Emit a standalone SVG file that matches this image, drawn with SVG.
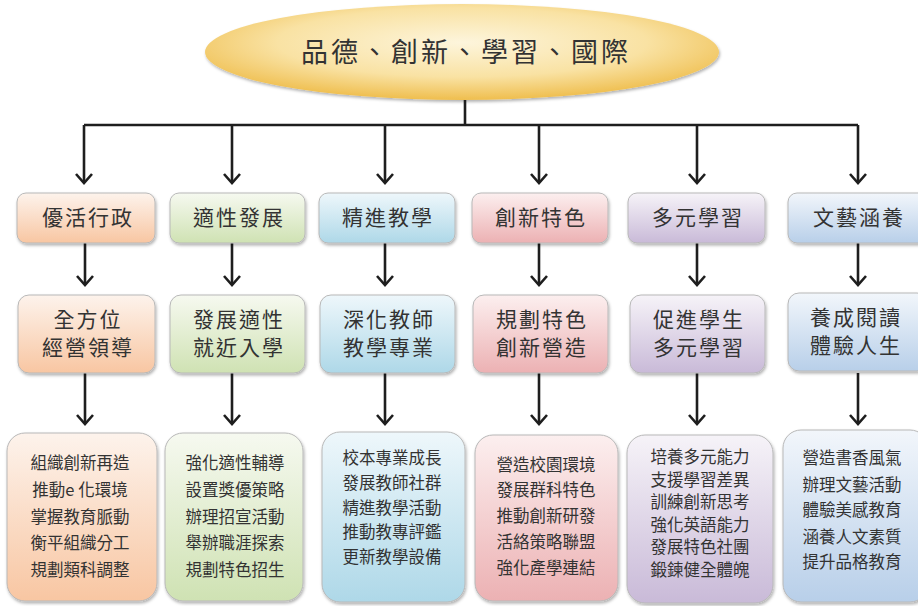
<svg xmlns="http://www.w3.org/2000/svg" width="918" height="606" viewBox="0 0 918 606">
<defs>
<radialGradient id="gEll" cx="0.5" cy="0.4" r="0.6">
<stop offset="0" stop-color="#fdf5dc"/>
<stop offset="0.6" stop-color="#f9e2a3"/>
<stop offset="1" stop-color="#efbe4e"/>
</radialGradient>
<linearGradient id="gO" x1="0" y1="0" x2="0" y2="1"><stop offset="0" stop-color="#fdf3ec"/><stop offset="1" stop-color="#f8c6a2"/></linearGradient>
<linearGradient id="gG" x1="0" y1="0" x2="0" y2="1"><stop offset="0" stop-color="#f6f9f0"/><stop offset="1" stop-color="#cfe2b3"/></linearGradient>
<linearGradient id="gB" x1="0" y1="0" x2="0" y2="1"><stop offset="0" stop-color="#eef7fb"/><stop offset="1" stop-color="#aed8e8"/></linearGradient>
<linearGradient id="gP" x1="0" y1="0" x2="0" y2="1"><stop offset="0" stop-color="#fcefef"/><stop offset="1" stop-color="#ecb1b3"/></linearGradient>
<linearGradient id="gV" x1="0" y1="0" x2="0" y2="1"><stop offset="0" stop-color="#f6f3f8"/><stop offset="1" stop-color="#c9bad8"/></linearGradient>
<linearGradient id="gS" x1="0" y1="0" x2="0" y2="1"><stop offset="0" stop-color="#f2f6fb"/><stop offset="1" stop-color="#b8cfe9"/></linearGradient>
<filter id="sh" x="-10%" y="-10%" width="130%" height="130%">
<feDropShadow dx="1" dy="2" stdDeviation="1.5" flood-color="#000" flood-opacity="0.3"/>
</filter>
<marker id="ah" viewBox="0 0 12 18" markerWidth="12" markerHeight="18" refX="10" refY="9" orient="auto" markerUnits="userSpaceOnUse">
<path d="M1,1 L10,9 L1,17" fill="none" stroke="#1e1e1e" stroke-width="2.6" stroke-linejoin="miter"/>
</marker>
<style>
.bx{stroke:#b8b8b8;stroke-width:1;filter:url(#sh);}
.t{font-family:"Noto Sans CJK TC","Noto Sans CJK SC",sans-serif;fill:#333;text-anchor:middle;}
.t1{font-size:21px;letter-spacing:2px;}
.t3{font-size:16.5px;}
.ln{stroke:#1e1e1e;stroke-width:2.6;fill:none;}
</style>
</defs>
<rect width="918" height="606" fill="#ffffff"/>

<g id="root">
<ellipse cx="462" cy="52" rx="257" ry="48" fill="url(#gEll)" filter="url(#sh)"/>
<text class="t" x="466" y="62" font-size="27" letter-spacing="3">品德、創新、學習、國際</text>
</g>

<g id="connectors">
<path class="ln" d="M465,100 V125 M84,125 H858"/>
<path class="ln" d="M84,125 V183" marker-end="url(#ah)"/>
<path class="ln" d="M232,125 V183" marker-end="url(#ah)"/>
<path class="ln" d="M385,125 V183" marker-end="url(#ah)"/>
<path class="ln" d="M539,125 V183" marker-end="url(#ah)"/>
<path class="ln" d="M697,125 V183" marker-end="url(#ah)"/>
<path class="ln" d="M858,125 V183" marker-end="url(#ah)"/>
<path class="ln" d="M85,243 V285" marker-end="url(#ah)"/>
<path class="ln" d="M232,243 V285" marker-end="url(#ah)"/>
<path class="ln" d="M385,243 V285" marker-end="url(#ah)"/>
<path class="ln" d="M539,243 V285" marker-end="url(#ah)"/>
<path class="ln" d="M697,243 V285" marker-end="url(#ah)"/>
<path class="ln" d="M858,243 V285" marker-end="url(#ah)"/>
<path class="ln" d="M85,373 V424" marker-end="url(#ah)"/>
<path class="ln" d="M232,373 V424" marker-end="url(#ah)"/>
<path class="ln" d="M385,373 V424" marker-end="url(#ah)"/>
<path class="ln" d="M539,373 V424" marker-end="url(#ah)"/>
<path class="ln" d="M697,373 V424" marker-end="url(#ah)"/>
<path class="ln" d="M858,373 V424" marker-end="url(#ah)"/>
</g>

<g id="n1a"><rect class="bx" x="17" y="193" width="138" height="50" rx="9" fill="url(#gO)"/><text class="t t1" x="88" y="225">優活行政</text></g>
<g id="n2a"><rect class="bx" x="170" y="193" width="135" height="50" rx="9" fill="url(#gG)"/><text class="t t1" x="239" y="225">適性發展</text></g>
<g id="n3a"><rect class="bx" x="319" y="193" width="136" height="50" rx="9" fill="url(#gB)"/><text class="t t1" x="388" y="225">精進教學</text></g>
<g id="n4a"><rect class="bx" x="472" y="193" width="136" height="50" rx="9" fill="url(#gP)"/><text class="t t1" x="541" y="225">創新特色</text></g>
<g id="n5a"><rect class="bx" x="628" y="193" width="137" height="50" rx="9" fill="url(#gV)"/><text class="t t1" x="698" y="225">多元學習</text></g>
<g id="n6a"><rect class="bx" x="788" y="193" width="140" height="50" rx="9" fill="url(#gS)"/><text class="t t1" x="859" y="225">文藝涵養</text></g>

<g id="n1b"><rect class="bx" x="18" y="295" width="137" height="78" rx="11" fill="url(#gO)"/><text class="t t1" x="88" y="327">全方位</text><text class="t t1" x="88" y="355">經營領導</text></g>
<g id="n2b"><rect class="bx" x="170" y="295" width="135" height="78" rx="11" fill="url(#gG)"/><text class="t t1" x="239" y="327">發展適性</text><text class="t t1" x="239" y="355">就近入學</text></g>
<g id="n3b"><rect class="bx" x="320" y="295" width="135" height="78" rx="11" fill="url(#gB)"/><text class="t t1" x="389" y="327">深化教師</text><text class="t t1" x="389" y="355">教學專業</text></g>
<g id="n4b"><rect class="bx" x="473" y="295" width="135" height="78" rx="11" fill="url(#gP)"/><text class="t t1" x="542" y="327">規劃特色</text><text class="t t1" x="542" y="355">創新營造</text></g>
<g id="n5b"><rect class="bx" x="630" y="295" width="135" height="78" rx="11" fill="url(#gV)"/><text class="t t1" x="699" y="327">促進學生</text><text class="t t1" x="699" y="355">多元學習</text></g>
<g id="n6b"><rect class="bx" x="788" y="293" width="140" height="78" rx="11" fill="url(#gS)"/><text class="t t1" x="856" y="325">養成閱讀</text><text class="t t1" x="856" y="353">體驗人生</text></g>

<g id="n1c"><rect class="bx" x="7" y="433" width="150" height="168" rx="18" fill="url(#gO)"/>
<text class="t t3" x="80" y="469">組織創新再造</text><text class="t t3" x="80" y="496">推動e 化環境</text><text class="t t3" x="80" y="523">掌握教育脈動</text><text class="t t3" x="80" y="549">衡平組織分工</text><text class="t t3" x="80" y="576">規劃類科調整</text></g>
<g id="n2c"><rect class="bx" x="165" y="433" width="138" height="168" rx="18" fill="url(#gG)"/>
<text class="t t3" x="235" y="469">強化適性輔導</text><text class="t t3" x="235" y="496">設置獎優策略</text><text class="t t3" x="235" y="523">辦理招宣活動</text><text class="t t3" x="235" y="549">舉辦職涯探索</text><text class="t t3" x="235" y="576">規劃特色招生</text></g>
<g id="n3c"><rect class="bx" x="322" y="432" width="143" height="170" rx="18" fill="url(#gB)"/>
<text class="t t3" x="392" y="464">校本專業成長</text><text class="t t3" x="392" y="489">發展教師社群</text><text class="t t3" x="392" y="514">精進教學活動</text><text class="t t3" x="392" y="538">推動教專評鑑</text><text class="t t3" x="392" y="563">更新教學設備</text></g>
<g id="n4c"><rect class="bx" x="475" y="435" width="143" height="166" rx="18" fill="url(#gP)"/>
<text class="t t3" x="546" y="471">營造校園環境</text><text class="t t3" x="546" y="496">發展群科特色</text><text class="t t3" x="546" y="522">推動創新研發</text><text class="t t3" x="546" y="548">活絡策略聯盟</text><text class="t t3" x="546" y="574">強化產學連結</text></g>
<g id="n5c"><rect class="bx" x="627" y="435" width="146" height="168" rx="18" fill="url(#gV)"/>
<text class="t t3" x="700" y="463">培養多元能力</text><text class="t t3" x="700" y="486">支援學習差異</text><text class="t t3" x="700" y="508">訓練創新思考</text><text class="t t3" x="700" y="531">強化英語能力</text><text class="t t3" x="700" y="553">發展特色社團</text><text class="t t3" x="700" y="576">鍛鍊健全體魄</text></g>
<g id="n6c"><rect class="bx" x="783" y="430" width="145" height="172" rx="18" fill="url(#gS)"/>
<text class="t t3" x="852" y="464">營造書香風氣</text><text class="t t3" x="852" y="491">辦理文藝活動</text><text class="t t3" x="852" y="516">體驗美感教育</text><text class="t t3" x="852" y="543">涵養人文素質</text><text class="t t3" x="852" y="568">提升品格教育</text></g>
</svg>
